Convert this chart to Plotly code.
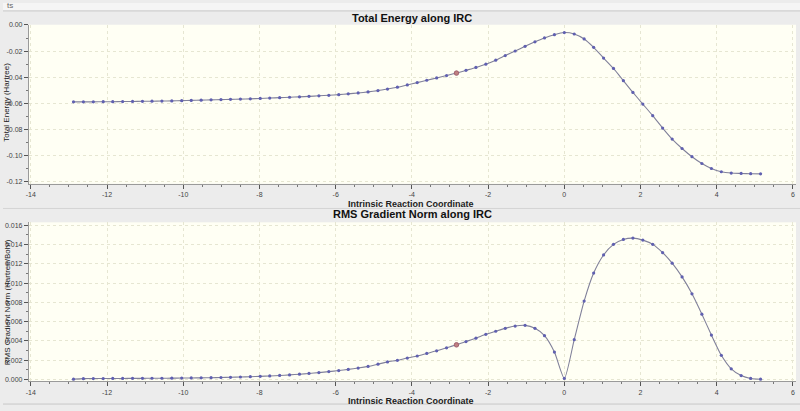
import plotly.graph_objects as go

# Intrinsic reaction coordinate
irc = [-12.88, -12.62, -12.36, -12.10, -11.85, -11.59, -11.33, -11.07, -10.82, -10.56,
       -10.30, -10.04, -9.79, -9.53, -9.27, -9.01, -8.76, -8.50, -8.24, -7.98,
       -7.73, -7.47, -7.21, -6.95, -6.70, -6.44, -6.18, -5.92, -5.67, -5.41,
       -5.15, -4.89, -4.64, -4.38, -4.12, -3.86, -3.61, -3.35, -3.09, -2.83,
       -2.58, -2.32, -2.06, -1.80, -1.55, -1.29, -1.03, -0.77, -0.52, -0.26,
       0.00, 0.26, 0.52, 0.77, 1.03, 1.29, 1.55, 1.80, 2.06, 2.32,
       2.58, 2.83, 3.09, 3.35, 3.61, 3.86, 4.12, 4.38, 4.64, 4.89, 5.15]

# Total energy (Hartree)
energy = [-0.0588, -0.0588, -0.0588, -0.0587, -0.0587, -0.0586, -0.0585, -0.0584, -0.0583, -0.0582,
          -0.0581, -0.0579, -0.0577, -0.0575, -0.0573, -0.0571, -0.0569, -0.0567, -0.0565, -0.0562,
          -0.0559, -0.0556, -0.0553, -0.0550, -0.0546, -0.0542, -0.0538, -0.0533, -0.0527, -0.0520,
          -0.0512, -0.0502, -0.0490, -0.0476, -0.0459, -0.0441, -0.0423, -0.0405, -0.0387, -0.0368,
          -0.0347, -0.0325, -0.0300, -0.0269, -0.0234, -0.0199, -0.0163, -0.0129, -0.0099, -0.0074,
          -0.0058, -0.0069, -0.0107, -0.0171, -0.0253, -0.0332, -0.0426, -0.0516, -0.0605, -0.0694,
          -0.0789, -0.0873, -0.0945, -0.1008, -0.1060, -0.1098, -0.1123, -0.1133, -0.1136, -0.1138, -0.1139]

# RMS gradient norm (Hartree/Bohr)
gradient = [0.00003, 0.00008, 0.00009, 0.00009, 0.00010, 0.00010, 0.00011, 0.00011, 0.00012, 0.00012,
            0.00013, 0.00014, 0.00015, 0.00016, 0.00018, 0.00020, 0.00022, 0.00025, 0.00028, 0.00032,
            0.00036, 0.00041, 0.00047, 0.00054, 0.00062, 0.00071, 0.00081, 0.00092, 0.00104, 0.00118,
            0.00135, 0.00158, 0.00182, 0.00198, 0.00222, 0.00243, 0.00270, 0.00297, 0.00328, 0.00359,
            0.00393, 0.00428, 0.00468, 0.00500, 0.00530, 0.00554, 0.00561, 0.00530, 0.00454, 0.00284,
            0.00010, 0.00413, 0.00813, 0.01104, 0.01292, 0.01402, 0.01453, 0.01467, 0.01446, 0.01402,
            0.01316, 0.01207, 0.01064, 0.00889, 0.00677, 0.00460, 0.00250, 0.00110, 0.00040, 0.00010, 0.00002]

current_index = 39

x_tickvals = [-14, -12, -10, -8, -6, -4, -2, 0, 2, 4, 6]
x_ticktext = ["-14", "-12", "-10", "-8", "-6", "-4", "-2", "0", "2", "4", "6"]
e_tickvals = [0.0, -0.02, -0.04, -0.06, -0.08, -0.10, -0.12]
e_ticktext = ["0.00", "-0.02", "-0.04", "-0.06", "-0.08", "-0.10", "-0.12"]
g_tickvals = [0.0, 0.002, 0.004, 0.006, 0.008, 0.010, 0.012, 0.014, 0.016]
g_ticktext = ["0.000", "0.002", "0.004", "0.006", "0.008", "0.010", "0.012", "0.014", "0.016"]

titles = ["Total Energy along IRC", "RMS Gradient Norm along IRC"]
x_title = "Intrinsic Reaction Coordinate"
y_titles = ["Total Energy (Hartree)", "RMS Gradient Norm (Hartree/Bohr)"]

W, H = 800, 411
def py(p):
    return 1 - p / H

LINE = "#80809a"
MARK = "#6060b0"
FONT = "Liberation Sans, Arial, sans-serif"

fig = go.Figure()
for yv, xa, ya in [(energy, "x", "y"), (gradient, "x2", "y2")]:
    fig.add_trace(go.Scatter(x=irc, y=yv, xaxis=xa, yaxis=ya, mode="lines+markers",
                             line=dict(color=LINE, width=1.1, shape="spline", smoothing=0.6),
                             marker=dict(color=MARK, size=3.2), showlegend=False,
                             hoverinfo="x+y"))
    fig.add_trace(go.Scatter(x=[irc[current_index]], y=[yv[current_index]], xaxis=xa, yaxis=ya,
                             mode="markers", marker=dict(color="#c08080", size=4.5,
                             line=dict(color="#a06070", width=1)),
                             showlegend=False))

xdom = [26 / W, 796 / W]
common_x = dict(range=[-14.05, 6.08], tickvals=x_tickvals, ticktext=x_ticktext,
                showgrid=True, gridcolor="#e6e6d2", griddash="dot", gridwidth=1,
                showline=True, linecolor="#9a9a9a", linewidth=1, mirror=False,
                ticks="outside", ticklen=4, tickcolor="#555",
                minor=dict(dtick=0.5, ticks="outside", ticklen=2, tickcolor="#777", showgrid=False),
                tickfont=dict(size=7, color="#444", family=FONT), zeroline=False, domain=xdom,
                fixedrange=True)
common_y = dict(showgrid=True, gridcolor="#e6e6d2", griddash="dot", gridwidth=1,
                showline=True, linecolor="#9a9a9a", linewidth=1,
                ticks="outside", ticklen=4, tickcolor="#555",
                tickfont=dict(size=7, color="#444", family=FONT), zeroline=False, fixedrange=True)

fig.update_layout(
    width=W, height=H, margin=dict(l=0, r=0, t=0, b=0),
    paper_bgcolor="#ececec", plot_bgcolor="#fffff4",
    font=dict(family=FONT),
    xaxis=dict(**common_x, anchor="y"),
    xaxis2=dict(**common_x, anchor="y2"),
    yaxis=dict(**common_y, range=[-0.1215, 0.0002], domain=[py(183), py(22)],
               tickvals=e_tickvals, ticktext=e_ticktext,
               minor=dict(dtick=0.01, ticks="outside", ticklen=2, tickcolor="#777", showgrid=False),
               anchor="x"),
    yaxis2=dict(**common_y, range=[-0.0002, 0.01631], domain=[py(383), py(222)],
                tickvals=g_tickvals, ticktext=g_ticktext,
                minor=dict(dtick=0.001, ticks="outside", ticklen=2, tickcolor="#777", showgrid=False),
                anchor="x2"),
    shapes=[
        dict(type="rect", xref="paper", yref="paper", x0=0, x1=1, y0=py(8), y1=1,
             fillcolor="#f5f5f5", line=dict(width=0), layer="below"),
        dict(type="line", xref="paper", yref="paper", x0=0, x1=1, y0=py(8), y1=py(8),
             line=dict(color="#c8c8c8", width=1)),
        dict(type="line", xref="paper", yref="paper", x0=0, x1=1, y0=py(208), y1=py(208),
             line=dict(color="#d4d4d4", width=1)),
        dict(type="line", xref="paper", yref="paper", x0=0, x1=1, y0=py(406), y1=py(406),
             line=dict(color="#c8c8c8", width=1)),
    ],
    annotations=[
        dict(text="<b>" + titles[0] + "</b>", x=411 / W, y=py(15), xref="paper", yref="paper",
             showarrow=False, font=dict(size=11, color="#111"), xanchor="center", yanchor="middle"),
        dict(text="<b>" + titles[1] + "</b>", x=411 / W, y=py(214), xref="paper", yref="paper",
             showarrow=False, font=dict(size=11, color="#111"), xanchor="center", yanchor="middle"),
        dict(text="<b>" + x_title + "</b>", x=410 / W, y=py(203), xref="paper", yref="paper",
             showarrow=False, font=dict(size=9, color="#222"), xanchor="center", yanchor="middle"),
        dict(text="<b>" + x_title + "</b>", x=410 / W, y=py(403), xref="paper", yref="paper",
             showarrow=False, font=dict(size=9, color="#222"), xanchor="center", yanchor="middle"),
        dict(text=y_titles[0], x=4 / W, y=py(100), xref="paper", yref="paper", textangle=-90,
             showarrow=False, font=dict(size=8, color="#222"), xanchor="center", yanchor="middle"),
        dict(text=y_titles[1], x=4 / W, y=py(303), xref="paper", yref="paper", textangle=-90,
             showarrow=False, font=dict(size=8, color="#222"), xanchor="center", yanchor="middle"),
        dict(text="ts", x=2 / W, y=py(3), xref="paper", yref="paper",
             showarrow=False, font=dict(size=8, color="#666"), xanchor="left", yanchor="middle"),
    ],
)

fig.write_html("out.html", config={"displayModeBar": False})
